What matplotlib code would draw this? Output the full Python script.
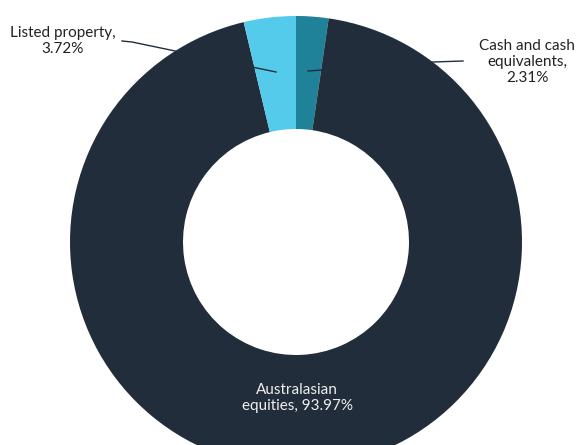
import matplotlib.pyplot as plt

plt.rcParams['font.family'] = ['Lato', 'DejaVu Sans']

labels = ['Cash and cash\nequivalents,\n2.31%', 'Australasian\nequities, 93.97%', 'Listed property,\n3.72%']
values = [2.31, 93.97, 3.72]
colors = ['#1f8299', '#222d3c', '#55cbeb']

fig = plt.figure(figsize=(5.76, 4.45), dpi=100)
ax = fig.add_axes([0, 0, 1, 1])

cx, cy, r = 296, 242, 226
# y axis is flipped below, so angles run the other way
ax.pie(values, colors=colors, startangle=-90, counterclock=True,
       center=(cx, cy), radius=r, wedgeprops=dict(width=113, linewidth=0))
ax.set_xlim(0, 576)
ax.set_ylim(445, 0)
ax.set_aspect('auto')
ax.axis('off')

# leader lines
ax.plot([122, 132, 276], [41, 42, 72], color='#222d3c', lw=1, zorder=5)
ax.plot([308, 433, 463], [71, 62, 61], color='#222d3c', lw=1, zorder=5)

ax.text(63, 41, labels[2], ha='center', va='center', fontsize=11, color='#222222', linespacing=1.15)
ax.text(527, 62, labels[0], ha='center', va='center', fontsize=11, color='#222222', linespacing=1.15)
ax.text(297, 398, labels[1], ha='center', va='center', fontsize=11, color='#eeeeee', linespacing=1.15)

fig.savefig('out.png', dpi=100)
